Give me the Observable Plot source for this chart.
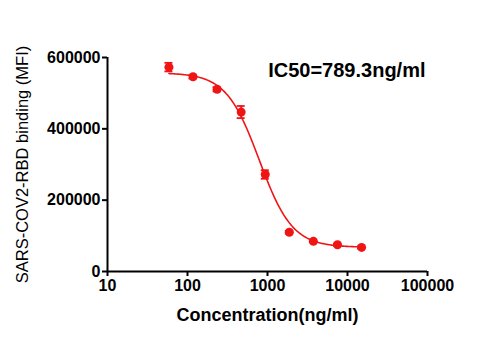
<!DOCTYPE html>
<html>
<head>
<meta charset="utf-8">
<script src="https://cdn.jsdelivr.net/npm/d3@7"></script>
<script src="https://cdn.jsdelivr.net/npm/@observablehq/plot@0.6"></script>
<style>
  html, body { margin: 0; padding: 0; background: #fff; }
</style>
</head>
<body>
<div id="chart"></div>
<script>
// Data
const concentration = [58.6, 117.2, 234.4, 468.75, 937.5, 1875, 3750, 7500, 15000];
const mfi = [573000, 546000, 511000, 447000, 272000, 110000, 84500, 75000, 67500];
const errorSem = [12000, 5000, 6000, 17000, 12000, 4000, 3000, 3000, 3000];

// 4PL fit parameters (as displayed: IC50 = 789.3 ng/ml)
const fitTop = 557000;
const fitBottom = 68000;
const fitIC50 = 789.3;
const fitHill = 2.1;

const xTicks = [10, 100, 1000, 10000, 100000];
const yTicks = [0, 200000, 400000, 600000];
const annotation = "IC50=789.3ng/ml";
const xTitle = "Concentration(ng/ml)";
const yTitle = "SARS-COV2-RBD binding (MFI)";

const points = concentration.map((c, i) => ({x: c, y: mfi[i], lo: mfi[i] - errorSem[i], hi: mfi[i] + errorSem[i]}));

// fitted curve sampled along the log axis
const curve = d3.range(0, 201).map(k => {
  const lx = Math.log10(concentration[0]) + k / 200 * (Math.log10(concentration[concentration.length - 1]) - Math.log10(concentration[0]));
  const x = Math.pow(10, lx);
  return {x, y: fitBottom + (fitTop - fitBottom) / (1 + Math.pow(x / fitIC50, fitHill))};
});

const red = "#f01515";
const capFactor = Math.pow(10, 4 / 80);

const chart = Plot.plot({
  width: 480,
  height: 360,
  marginTop: 57,
  marginBottom: 89,
  marginLeft: 107,
  marginRight: 53,
  style: {fontFamily: "'Liberation Sans', Arial, sans-serif", background: "#fff", color: "#000"},
  x: {type: "log", domain: [10, 100000]},
  y: {domain: [0, 600000]},
  marks: [
    Plot.line(curve, {x: "x", y: "y", stroke: red, strokeWidth: 1.6}),
    Plot.ruleX(points, {x: "x", y1: "lo", y2: "hi", stroke: red, strokeWidth: 1.8}),
    Plot.ruleY(points, {y: "lo", x1: d => d.x / capFactor, x2: d => d.x * capFactor, stroke: red, strokeWidth: 1.8}),
    Plot.ruleY(points, {y: "hi", x1: d => d.x / capFactor, x2: d => d.x * capFactor, stroke: red, strokeWidth: 1.8}),
    Plot.dot(points, {x: "x", y: "y", r: 4.5, fill: red, stroke: "none"}),
    Plot.axisX({ticks: xTicks, tickFormat: d3.format("d"), tickSize: 5, tickPadding: 3, strokeWidth: 2, fontSize: 16, fontWeight: "bold", label: null}),
    Plot.axisY({ticks: yTicks, tickFormat: d3.format("d"), tickSize: 5, tickPadding: 2, strokeWidth: 2, fontSize: 16, fontWeight: "bold", label: null}),
    Plot.ruleY([0], {stroke: "#000", strokeWidth: 2}),
    Plot.ruleX([10], {stroke: "#000", strokeWidth: 2}),
    Plot.text([annotation], {frameAnchor: "top-right", dx: -2, dy: 5, text: d => d, fontSize: 20, fontWeight: "bold", textAnchor: "end", lineAnchor: "top"}),
    Plot.text([xTitle], {frameAnchor: "bottom", dy: 44, text: d => d, fontSize: 18, fontWeight: "bold", lineAnchor: "middle"}),
    Plot.text([yTitle], {frameAnchor: "left", dx: -85, text: d => d, fontSize: 16.5, textAnchor: "middle", lineAnchor: "middle", rotate: -90})
  ]
});
document.getElementById("chart").appendChild(chart);
</script>
</body>
</html>
